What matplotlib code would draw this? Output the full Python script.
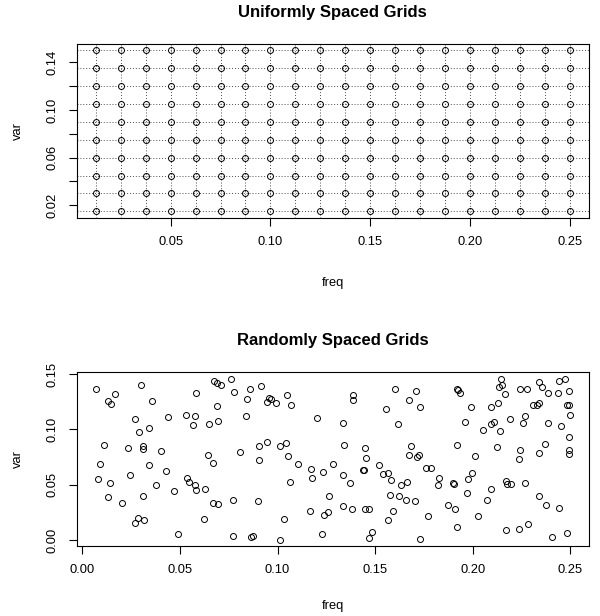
import matplotlib

matplotlib.use("Agg")
import matplotlib.pyplot as plt
import numpy as np

plt.rcParams["font.family"] = ["Liberation Sans", "DejaVu Sans"]

# uniform grid (top panel)
grid_freq = [0.0125, 0.025, 0.0375, 0.05, 0.0625, 0.075, 0.0875, 0.1, 0.1125, 0.125,
             0.1375, 0.15, 0.1625, 0.175, 0.1875, 0.2, 0.2125, 0.225, 0.2375, 0.25]
grid_var = [0.015, 0.03, 0.045, 0.06, 0.075, 0.09, 0.105, 0.12, 0.135, 0.15]

# random grid (bottom panel)
rand_freq = [
    0.0068, 0.0301, 0.0167, 0.0133, 0.0147, 0.0359, 0.0267, 0.0342, 0.0290, 0.0111,
    0.0232, 0.0313, 0.0308, 0.0403, 0.0090, 0.0342, 0.0078, 0.0243, 0.0139, 0.0376,
    0.0130, 0.0308, 0.0202, 0.0285, 0.0267, 0.0314,
    0.0674, 0.0691, 0.0711, 0.0759, 0.0858, 0.0583, 0.0776, 0.0841, 0.0691, 0.0439,
    0.0533, 0.0577, 0.0566, 0.0649, 0.0694, 0.0836, 0.0807, 0.0646, 0.0667, 0.0427,
    0.0537, 0.0544, 0.0575, 0.0581, 0.0629, 0.0468, 0.0667, 0.0694, 0.0772, 0.0622,
    0.0492, 0.0772, 0.0863, 0.0872,
    0.0916, 0.0945, 0.0957, 0.0967, 0.0991, 0.1049, 0.1070, 0.1203, 0.0906, 0.0945,
    0.1015, 0.1041, 0.0906, 0.1053, 0.1106, 0.1169, 0.1179, 0.1234, 0.1285, 0.1063,
    0.0899, 0.1265, 0.1166, 0.1237, 0.1258, 0.1034, 0.1227, 0.1012,
    0.1603, 0.1709, 0.1675, 0.1730, 0.1388, 0.1388, 0.1555, 0.1333, 0.1617, 0.1342,
    0.1449, 0.1453, 0.1682, 0.1675, 0.1716, 0.1726, 0.1761, 0.1333, 0.1371, 0.1436,
    0.1443, 0.1521, 0.1538, 0.1567, 0.1579, 0.1632, 0.1663, 0.1576, 0.1624, 0.1658,
    0.1706, 0.1333, 0.1381, 0.1446, 0.1470, 0.1590, 0.1566, 0.1771, 0.1484, 0.1470,
    0.1730,
    0.2144, 0.2136, 0.2150, 0.2164, 0.1918, 0.1925, 0.1935, 0.1990, 0.2092, 0.2130,
    0.1962, 0.2051, 0.2092, 0.2109, 0.2140, 0.2191, 0.1918, 0.2123, 0.2013, 0.1789,
    0.1829, 0.1822, 0.1897, 0.1904, 0.1976, 0.1996, 0.1969, 0.2095, 0.2171, 0.2174,
    0.2195, 0.2075, 0.1873, 0.1908, 0.2027, 0.1918, 0.2171,
    0.2243, 0.2280, 0.2338, 0.2355, 0.2386, 0.2441, 0.2472, 0.2437, 0.2492, 0.2331,
    0.2342, 0.2311, 0.2485, 0.2492, 0.2499, 0.2270, 0.2256, 0.2386, 0.2451, 0.2492,
    0.2243, 0.2236, 0.2369, 0.2338, 0.2492, 0.2492, 0.2270, 0.2342, 0.2376, 0.2444,
    0.2236, 0.2284, 0.2407, 0.2485,
]
rand_var = [
    0.1363, 0.1399, 0.1320, 0.1254, 0.1227, 0.1260, 0.1097, 0.1012, 0.0976, 0.0862,
    0.0829, 0.0850, 0.0820, 0.0805, 0.0687, 0.0682, 0.0555, 0.0585, 0.0515, 0.0501,
    0.0386, 0.0395, 0.0332, 0.0199, 0.0157, 0.0184,
    0.1435, 0.1423, 0.1405, 0.1453, 0.1369, 0.1329, 0.1338, 0.1272, 0.1215, 0.1112,
    0.1134, 0.1118, 0.1037, 0.1052, 0.1073, 0.1121, 0.0796, 0.0766, 0.0693, 0.0627,
    0.0564, 0.0524, 0.0501, 0.0449, 0.0461, 0.0443, 0.0338, 0.0325, 0.0359, 0.0187,
    0.0052, 0.0033, 0.0027, 0.0040,
    0.1390, 0.1248, 0.1288, 0.1278, 0.1236, 0.1308, 0.1224, 0.1107, 0.0847, 0.0883,
    0.0850, 0.0881, 0.0721, 0.0757, 0.0687, 0.0642, 0.0558, 0.0615, 0.0684, 0.0522,
    0.0350, 0.0398, 0.0259, 0.0230, 0.0253, 0.0190, 0.0058, 0.0004,
    0.1363, 0.1344, 0.1266, 0.1200, 0.1308, 0.1269, 0.1188, 0.1061, 0.1049, 0.0856,
    0.0835, 0.0741, 0.0847, 0.0766, 0.0754, 0.0766, 0.0655, 0.0585, 0.0515, 0.0637,
    0.0637, 0.0675, 0.0600, 0.0609, 0.0540, 0.0501, 0.0524, 0.0404, 0.0398, 0.0362,
    0.0350, 0.0307, 0.0278, 0.0278, 0.0278, 0.0262, 0.0184, 0.0214, 0.0072, 0.0018,
    0.0006,
    0.1459, 0.1380, 0.1399, 0.1320, 0.1363, 0.1356, 0.1326, 0.1200, 0.1200, 0.1242,
    0.1067, 0.0995, 0.1046, 0.1067, 0.0986, 0.1097, 0.0856, 0.0838, 0.0759, 0.0655,
    0.0560, 0.0501, 0.0519, 0.0506, 0.0555, 0.0609, 0.0425, 0.0458, 0.0531, 0.0510,
    0.0504, 0.0359, 0.0314, 0.0284, 0.0217, 0.0118, 0.0088,
    0.1363, 0.1363, 0.1429, 0.1387, 0.1333, 0.1441, 0.1453, 0.1333, 0.1344, 0.1224,
    0.1236, 0.1224, 0.1224, 0.1218, 0.1127, 0.1121, 0.1055, 0.1061, 0.1031, 0.0929,
    0.0814, 0.0730, 0.0865, 0.0784, 0.0814, 0.0778, 0.0519, 0.0398, 0.0314, 0.0289,
    0.0097, 0.0145, 0.0031, 0.0067,
]


def r_lim(vals):
    # R-style axis range: data range extended by 4% on each side
    lo, hi = min(vals), max(vals)
    d = (hi - lo) * 0.04
    return lo - d, hi + d


def style_axis(ax):
    for s in ax.spines.values():
        s.set_linewidth(0.8)
        s.set_color("black")
    ax.tick_params(direction="out", length=5.8, width=0.8, labelsize=9.3)
    ax.tick_params(axis="x", pad=7.5)
    ax.tick_params(axis="y", pad=7, labelrotation=90)
    for lab in ax.get_yticklabels():
        lab.set_va("center")


fig = plt.figure(figsize=(6.0, 6.16), dpi=100)
W, H = 600.0, 616.0
ax_left = 76.7 / W
ax_w = (589.0 - 76.7) / W
ax_h = 173.7 / H

# --- top panel: uniform grid ---
ax1 = fig.add_axes([ax_left, 1 - 217.7 / H, ax_w, ax_h])
gf, gv = np.meshgrid(grid_freq, grid_var)
for f in grid_freq:
    ax1.axvline(f, color="0.3", ls=(0, (1, 2)), lw=0.7, zorder=1)
for v in grid_var:
    ax1.axhline(v, color="0.3", ls=(0, (1, 2)), lw=0.7, zorder=1)
ax1.plot(gf.ravel(), gv.ravel(), "o", ms=4.3, mfc="none", mec="black", mew=0.7, zorder=3)
ax1.set_xlim(*r_lim(grid_freq))
ax1.set_ylim(*r_lim(grid_var))
ax1.set_xticks([0.05, 0.10, 0.15, 0.20, 0.25])
ax1.set_xticklabels(["0.05", "0.10", "0.15", "0.20", "0.25"])
ax1.set_yticks([0.02, 0.04, 0.06, 0.08, 0.10, 0.12, 0.14])
ax1.set_yticklabels(["0.02", "", "0.06", "", "0.10", "", "0.14"])
style_axis(ax1)

# --- bottom panel: random grid ---
ax2 = fig.add_axes([ax_left, 1 - 546.0 / H, ax_w, ax_h])
ax2.plot(rand_freq, rand_var, "o", ms=4.3, mfc="none", mec="black", mew=0.7)
ax2.set_xlim(*r_lim(rand_freq))
ax2.set_ylim(*r_lim(rand_var))
ax2.set_xticks([0.0, 0.05, 0.10, 0.15, 0.20, 0.25])
ax2.set_xticklabels(["0.00", "0.05", "0.10", "0.15", "0.20", "0.25"])
ax2.set_yticks([0.0, 0.05, 0.10, 0.15])
ax2.set_yticklabels(["0.00", "0.05", "0.10", "0.15"])
style_axis(ax2)

# titles and axis labels, placed like R's margin text
xc = (76.7 + 589.0) / 2 / W
fig.text(xc, 1 - 13 / H, "Uniformly Spaced Grids", ha="center", va="center",
         fontsize=12, fontweight="bold")
fig.text(xc, 1 - 341 / H, "Randomly Spaced Grids", ha="center", va="center",
         fontsize=12, fontweight="bold")
fig.text(xc, 1 - 283 / H, "freq", ha="center", va="center", fontsize=9.3)
fig.text(xc, 1 - 606 / H, "freq", ha="center", va="center", fontsize=9.3)
fig.text(18 / W, 1 - 131 / H, "var", ha="center", va="center", rotation=90, fontsize=9.3)
fig.text(18 / W, 1 - 459 / H, "var", ha="center", va="center", rotation=90, fontsize=9.3)

fig.savefig("out.png", dpi=100)
